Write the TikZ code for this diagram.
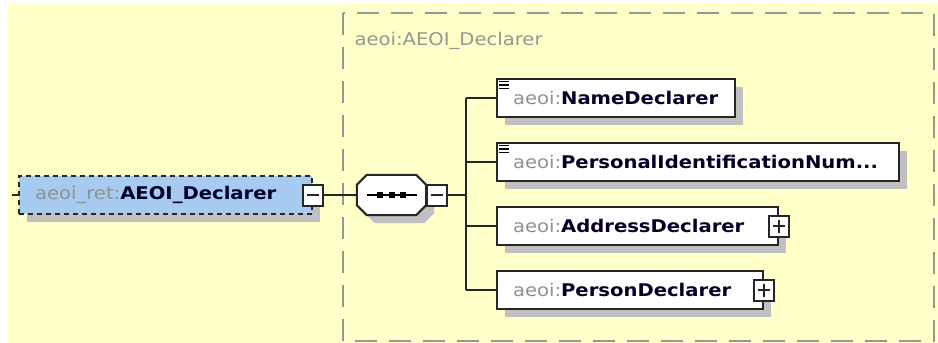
\documentclass[tikz,border=0pt]{standalone}
\usepackage{fontspec}
\setmainfont{DejaVu Sans}[FakeStretch=1.12]
\usetikzlibrary{positioning, calc, shadows}
\definecolor{bgyellow}{RGB}{255,255,200}
\definecolor{elemblue}{RGB}{166,202,240}
\definecolor{shadowgray}{RGB}{192,192,192}
\definecolor{groupgray}{RGB}{150,150,150}
\definecolor{prefixgray}{RGB}{145,145,145}
\definecolor{namenavy}{RGB}{0,0,40}
\newcommand{\elname}[2]{\textcolor{prefixgray}{#1:}\textbf{#2}}

\begin{document}
\begin{tikzpicture}[x=1pt, y=-1pt,
  every node/.style={font=\fontsize{17.5}{21}\selectfont, text=namenavy},
  conn/.style={line width=2pt, black!85},
  elembox/.style={draw=black!85, line width=2pt, fill=white, minimum height=38pt, anchor=west,
    align=left, inner xsep=16pt, inner ysep=0pt,
    drop shadow={shadow xshift=8pt, shadow yshift=-8pt, fill=shadowgray, opacity=1}},
  togglebox/.style={draw=black!85, line width=2pt, fill=white, minimum width=20pt, minimum height=21pt, inner sep=0pt},
  minusbox/.style={togglebox, path picture={
    \draw[line width=1.6pt] ([xshift=4pt]path picture bounding box.west) -- ([xshift=-4pt]path picture bounding box.east);}},
  plusbox/.style={togglebox, path picture={
    \draw[line width=1.6pt] ([xshift=4pt]path picture bounding box.west) -- ([xshift=-4pt]path picture bounding box.east)
      ([yshift=-4pt]path picture bounding box.north) -- ([yshift=4pt]path picture bounding box.south);}}]
  \useasboundingbox (0,0) rectangle (938,343);
  \fill[white] (0,0) rectangle (938,343);
  \fill[bgyellow] (8,3) rectangle (938,343);

  % group of the complex type
  \draw[groupgray, line width=2.2pt, dash pattern=on 22pt off 12pt] (343,13) rectangle (934,341);
  \node[anchor=west, text=groupgray] (grouptitle) at (351,41) {aeoi:AEOI\_Declarer};

  % root element
  \node[elembox, fill=elemblue, dash pattern=on 5pt off 4pt, text width=261pt] (main) at (18,195) {\elname{aeoi\_ret}{AEOI\_Declarer}};
  \node[minusbox] (mainminus) at (main.east) {};
  \coordinate (stub) at (12,195);
  \draw[conn] (stub) -- (main.west);

  % sequence
  \node[minimum width=69pt, minimum height=40pt, inner sep=0pt] (seq) at (391.5,195) {};
  \draw[draw=black!85, line width=2pt, fill=white, drop shadow={shadow xshift=8pt, shadow yshift=-8pt, fill=shadowgray, opacity=1}]
    ([xshift=10pt]seq.north west) -- ([xshift=-10pt]seq.north east) -- ([yshift=-10pt]seq.north east)
    -- ([yshift=10pt]seq.south east) -- ([xshift=-10pt]seq.south east) -- ([xshift=10pt]seq.south west)
    -- ([yshift=10pt]seq.south west) -- ([yshift=-10pt]seq.north west) -- cycle;
  \draw[line width=1.8pt] ([xshift=-25pt]seq.center) -- ([xshift=25pt]seq.center);
  \foreach \dx in {-11.5,0,11.5}
    \fill ([xshift=\dx pt]seq.center) +(-3,-3) rectangle +(3,3);
  \node[minusbox, anchor=west] (seqminus) at (seq.east) {};
  \draw[conn] (mainminus.east) -- (seq.west);

  % child elements
  \node[elembox, text width=206pt] (name) at (496,98) {\elname{aeoi}{NameDeclarer}};
  \node[elembox, text width=370pt] (pin) at (496,162) {\elname{aeoi}{PersonalIdentificationNum...}};
  \node[elembox, text width=249pt] (addr) at (496,226) {\elname{aeoi}{AddressDeclarer}};
  \node[elembox, text width=234pt] (person) at (496,290) {\elname{aeoi}{PersonDeclarer}};
  \node[plusbox] (addrplus) at (addr.east) {};
  \node[plusbox] (personplus) at (person.east) {};

  % simple content marks
  \foreach \el in {name,pin}
    \foreach \dy in {3.5,7,10.5}
      \draw[line width=1.6pt] ([xshift=3pt,yshift=-\dy pt]\el.north west) -- ++(10,0);

  % connectors
  \coordinate (bus) at (466,195);
  \draw[conn] (seqminus.east) -- (bus);
  \draw[conn] (bus |- name.west) -- (bus |- person.west);
  \foreach \el in {name,pin,addr,person}
    \draw[conn] (bus |- \el.west) -- (\el.west);
\end{tikzpicture}
\end{document}
